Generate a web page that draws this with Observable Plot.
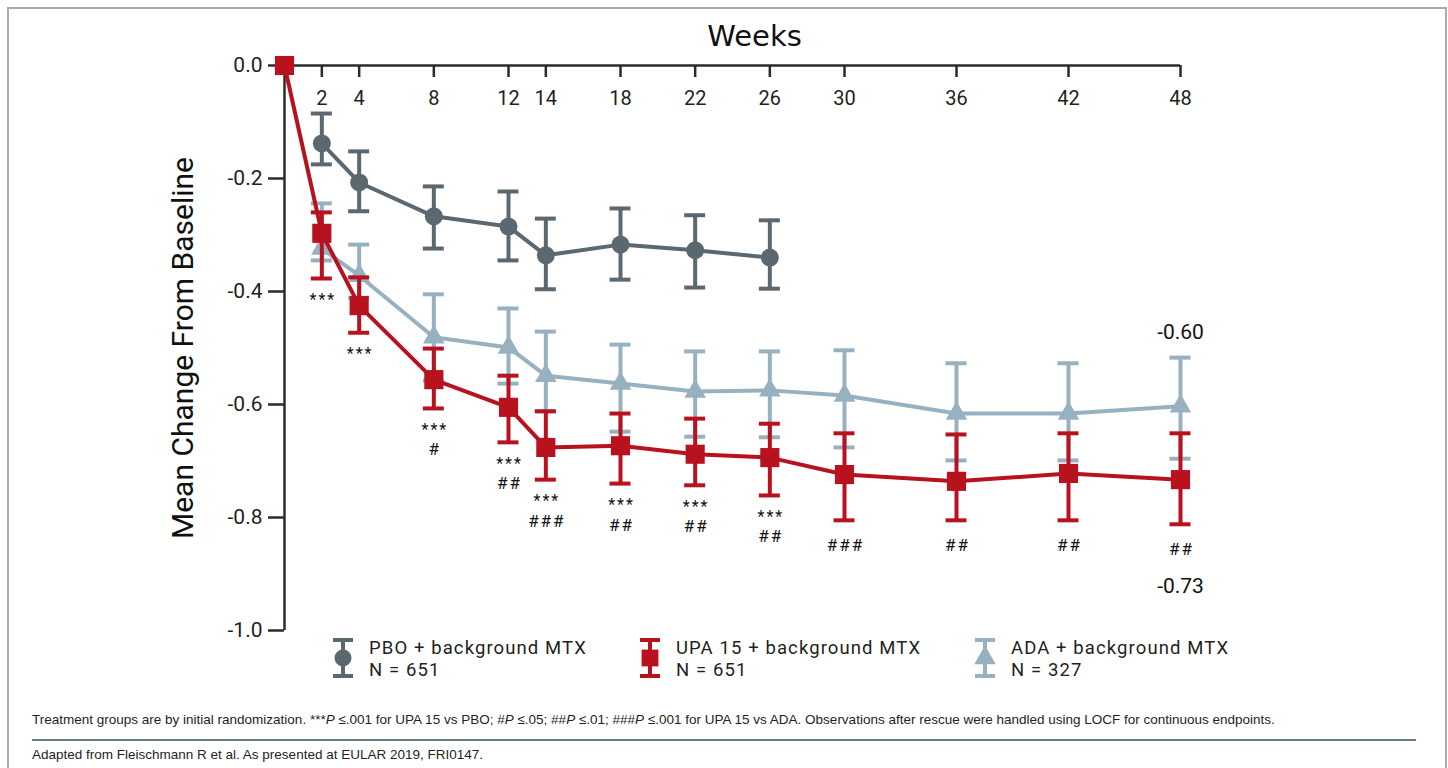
<!DOCTYPE html>
<html>
<head>
<meta charset="utf-8">
<script src="https://cdn.jsdelivr.net/npm/d3@7"></script>
<script src="https://cdn.jsdelivr.net/npm/@observablehq/plot@0.6"></script>
<style>
  body { margin: 0; background: #fff; font-family: Roboto, sans-serif; }
  #page { position: relative; width: 1448px; height: 768px; overflow: hidden; background: #fff; }
  #frame { position: absolute; left: 7px; top: 7px; width: 1440px; height: 800px; border: 2px solid #ababab; border-bottom: none; box-sizing: border-box; }
  #chart { position: absolute; left: 0; top: 0; }
  .leg { position: absolute; top: 638px; display: flex; align-items: flex-start; }
  .leg .t { font-family: Roboto, sans-serif; font-size: 18.5px; line-height: 21.5px; letter-spacing: 1.1px; color: #231f20; margin-top: 0px; margin-left: 14px; white-space: nowrap; }
  .note { position: absolute; left: 32px; font-family: "Liberation Sans", Arial, sans-serif; font-size: 13.5px; color: #231f20; white-space: nowrap; }
  #sep { position: absolute; left: 32px; top: 739px; width: 1384px; height: 2px; background: #6e7b83; }
</style>
</head>
<body>
<div id="page">
  <div id="frame"></div>
  <div id="chart"></div>
  <div id="legend"></div>
  <div class="note" style="top:712px">Treatment groups are by initial randomization. ***<i>P</i> ≤.001 for UPA 15 vs PBO; #<i>P</i> ≤.05; ##<i>P</i> ≤.01; ###<i>P</i> ≤.001 for UPA 15 vs ADA. Observations after rescue were handled using LOCF for continuous endpoints.</div>
  <div id="sep"></div>
  <div class="note" style="top:747px">Adapted from Fleischmann R et al. As presented at EULAR 2019, FRI0147.</div>
</div>
<script>
// ---- data ----
const weeks = [0, 2, 4, 8, 12, 14, 18, 22, 26, 30, 36, 42, 48];
const tickWeeks = [2, 4, 8, 12, 14, 18, 22, 26, 30, 36, 42, 48];
const yTicks = [0, -0.2, -0.4, -0.6, -0.8, -1.0];

const pboWeeks = [2, 4, 8, 12, 14, 18, 22, 26];
const pboMean  = [-0.138, -0.207, -0.267, -0.285, -0.336, -0.317, -0.327, -0.340];
const pboUpper = [-0.085, -0.152, -0.214, -0.223, -0.271, -0.253, -0.265, -0.274];
const pboLower = [-0.175, -0.258, -0.324, -0.345, -0.396, -0.379, -0.393, -0.395];

const upaWeeks = [0, 2, 4, 8, 12, 14, 18, 22, 26, 30, 36, 42, 48];
const upaMean  = [0, -0.297, -0.425, -0.556, -0.605, -0.676, -0.673, -0.688, -0.694, -0.724, -0.736, -0.722, -0.733];
const upaUpper = [null, -0.260, -0.375, -0.501, -0.549, -0.612, -0.616, -0.625, -0.634, -0.651, -0.653, -0.651, -0.651];
const upaLower = [null, -0.377, -0.473, -0.607, -0.667, -0.733, -0.740, -0.743, -0.761, -0.805, -0.805, -0.805, -0.812];

const adaWeeks = [2, 4, 8, 12, 14, 18, 22, 26, 30, 36, 42, 48];
const adaMean  = [-0.324, -0.372, -0.481, -0.499, -0.549, -0.563, -0.577, -0.575, -0.584, -0.616, -0.616, -0.603];
const adaUpper = [-0.244, -0.317, -0.405, -0.430, -0.471, -0.494, -0.506, -0.506, -0.504, -0.527, -0.527, -0.517];
const adaLower = [-0.345, -0.411, -0.558, -0.563, -0.612, -0.648, -0.657, -0.658, -0.676, -0.699, -0.699, -0.696];

// significance markers for UPA 15 (vs PBO, vs ADA), aligned with upaWeeks
const vsPbo = ["", "***", "***", "***", "***", "***", "***", "***", "***", "", "", "", ""];
const vsAda = ["", "", "", "#", "##", "###", "##", "##", "##", "###", "##", "##", "##"];

const seriesNames = ["PBO + background MTX", "UPA 15 + background MTX", "ADA + background MTX"];
const seriesN = ["N = 651", "N = 651", "N = 327"];
const seriesColors = ["#5c6870", "#b8121e", "#97b1c0"];
const seriesSymbols = ["circle", "square", "triangle"];

// ---- tables ----
const rows = (w, m, u, l) => w.map((week, i) => ({week, mean: m[i], upper: u[i], lower: l[i]}));
const pbo = rows(pboWeeks, pboMean, pboUpper, pboLower);
const upa = rows(upaWeeks, upaMean, upaUpper, upaLower).map((d, i) => ({...d, star: vsPbo[i], hash: vsAda[i]}));
const ada = rows(adaWeeks, adaMean, adaUpper, adaLower);

const R = {circle: 9, square: 10.8, triangle: 8};

function series(data, color, symbol) {
  const eb = data.filter(d => d.upper != null);
  return [
    Plot.ruleX(eb, {x: "week", y1: "lower", y2: "upper", stroke: color, strokeWidth: 4}),
    Plot.ruleY(eb, {y: "upper", x1: "week", x2: "week", insetLeft: -10.5, insetRight: -10.5, stroke: color, strokeWidth: 4}),
    Plot.ruleY(eb, {y: "lower", x1: "week", x2: "week", insetLeft: -10.5, insetRight: -10.5, stroke: color, strokeWidth: 4}),
    Plot.line(data, {x: "week", y: "mean", stroke: color, strokeWidth: 4}),
    Plot.dot(data, {x: "week", y: "mean", symbol, r: R[symbol], fill: color, stroke: null})
  ];
}

const axisColor = "#2b2b2b";
const STAR_SIZE = 16, HASH_SIZE = 17;

const chart = Plot.plot({
  width: 1448,
  height: 640,
  marginLeft: 284,
  marginRight: 268,
  marginTop: 65,
  marginBottom: 10,
  x: {domain: [0, 48]},
  y: {domain: [-1, 0]},
  style: {fontFamily: "Roboto, sans-serif", color: "#231f20", background: "transparent", overflow: "visible"},
  marks: [
    Plot.ruleY([0], {stroke: axisColor, strokeWidth: 2.5}),
    Plot.ruleX([0], {stroke: axisColor, strokeWidth: 2.5}),
    Plot.axisY({ticks: yTicks, tickSize: 16, tickPadding: 6, tickFormat: d => d.toFixed(1), fontSize: 21, label: null, stroke: axisColor, strokeWidth: 2.5}),
    Plot.axisX({anchor: "bottom", frameAnchor: "top", ticks: tickWeeks, tickSize: 12, tickPadding: 13, fontSize: 20, label: null, stroke: axisColor, strokeWidth: 2.5}),
    Plot.text(["Weeks"], {frameAnchor: "top", dx: 22, dy: -40, fontSize: 29, fontFamily: "DejaVu Sans", fill: "#111"}),
    Plot.text(["Mean Change From Baseline"], {frameAnchor: "left", textAnchor: "middle", rotate: -90, dx: -101, fontSize: 30, fill: "#111"}),
    ...series(ada, seriesColors[2], "triangle"),
    ...series(pbo, seriesColors[0], "circle"),
    ...series(upa, seriesColors[1], "square"),
    Plot.text(upa.filter(d => d.star), {x: "week", y: "lower", text: "star", dx: 1, dy: 21.5, fontSize: STAR_SIZE, fill: "#111"}),
    Plot.text(upa.filter(d => d.hash && d.star), {x: "week", y: "lower", text: "hash", dx: 1, dy: 41.5, fontSize: HASH_SIZE, fill: "#111"}),
    Plot.text(upa.filter(d => d.hash && !d.star), {x: "week", y: "lower", text: "hash", dx: 1, dy: 25.5, fontSize: HASH_SIZE, fill: "#111"}),
    Plot.text(ada.slice(-1), {x: "week", y: "upper", text: d => d.mean.toFixed(2), dy: -25, fontSize: 21, fill: "#111"}),
    Plot.text(upa.slice(-1), {x: "week", y: "lower", text: d => d.mean.toFixed(2), dy: 62, fontSize: 21, fill: "#111"})
  ]
});
// widen the significance symbols slightly, as in the reference
chart.querySelectorAll(`g[font-size="${STAR_SIZE}"], g[font-size="${HASH_SIZE}"]`).forEach(g => g.setAttribute("letter-spacing", "2"));
document.getElementById("chart").append(chart);

// ---- legend ----
const legendLeft = [331, 638, 973];
const symbolTypes = {circle: d3.symbolCircle, square: d3.symbolSquare, triangle: d3.symbolTriangle};
const legendR = {circle: 8.5, square: 9.5, triangle: 8};
const legend = document.getElementById("legend");
seriesNames.forEach((name, i) => {
  const item = document.createElement("div");
  item.className = "leg";
  item.style.left = legendLeft[i] + "px";
  const c = seriesColors[i];
  const s = seriesSymbols[i];
  const sym = d3.symbol(symbolTypes[s], Math.PI * legendR[s] * legendR[s])();
  item.innerHTML = `<svg width="24" height="40" viewBox="0 0 24 40">
    <line x1="12" x2="12" y1="2" y2="38" stroke="${c}" stroke-width="4"/>
    <line x1="2" x2="22" y1="2" y2="2" stroke="${c}" stroke-width="4"/>
    <line x1="2" x2="22" y1="38" y2="38" stroke="${c}" stroke-width="4"/>
    <path d="${sym}" transform="translate(12,20)" fill="${c}"/>
  </svg><div class="t">${name}<br>${seriesN[i]}</div>`;
  legend.append(item);
});
</script>
</body>
</html>
